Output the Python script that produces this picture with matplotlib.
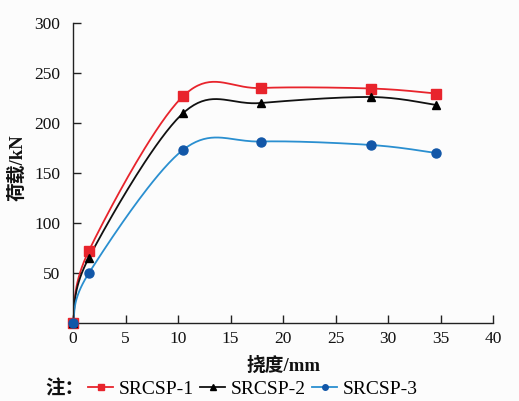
import numpy as np
import matplotlib
matplotlib.use("Agg")
import matplotlib.pyplot as plt
from matplotlib.lines import Line2D

plt.rcParams['font.family'] = ['Liberation Serif', 'Noto Sans CJK SC']

series_names = ["SRCSP-1", "SRCSP-2", "SRCSP-3"]
deflection = [0, 1.5, 10.5, 17.9, 28.4, 34.6]
load_1 = [0, 72, 227, 235, 234.5, 229.5]
load_2 = [0, 65, 210, 220, 226, 218]
load_3 = [0, 49.7, 173.3, 181.5, 178, 170]
x_ticks = [0, 5, 10, 15, 20, 25, 30, 35, 40]
y_ticks = [50, 100, 150, 200, 250, 300]

line_colors = ["#E8242C", "#111111", "#2A8FD0"]
marker_colors = ["#E8242C", "#000000", "#1257A8"]
markers = ["s", "^", "o"]


def excel_smooth(x, y, n=40):
    p = np.column_stack([x, y]).astype(float)
    ext = np.vstack([p[0], p, p[-1]])
    out = []
    t = np.linspace(0, 1, n)[:, None]
    for i in range(len(p) - 1):
        p0 = ext[i + 1]
        p3 = ext[i + 2]
        c1 = p0 + (ext[i + 2] - ext[i]) / 6.0
        c2 = p3 - (ext[i + 3] - ext[i + 1]) / 6.0
        seg = ((1 - t) ** 3) * p0 + 3 * ((1 - t) ** 2) * t * c1 + 3 * (1 - t) * t ** 2 * c2 + t ** 3 * p3
        out.append(seg if i == 0 else seg[1:])
    s = np.vstack(out)
    return np.maximum(s[:, 0], min(x)), s[:, 1]


fig = plt.figure(figsize=(5.19, 4.01), dpi=100, facecolor="#FCFCFC")
ax = fig.add_axes([73 / 519, 78 / 401, 420 / 519, 300 / 401])
ax.set_facecolor("#FCFCFC")

handles = []
for loads, name, lc, mc, mk in zip([load_1, load_2, load_3], series_names, line_colors, marker_colors, markers):
    sx, sy = excel_smooth(deflection, loads)
    ax.plot(sx, sy, color=lc, lw=1.3, zorder=2, clip_on=False)
    ms = 6.5 if mk != "^" else 6
    ax.plot(deflection, loads, linestyle="none", marker=mk, markersize=ms,
            color=mc, markeredgecolor=mc, zorder=3, clip_on=False)
    handles.append(Line2D([0], [0], color=lc, lw=1.3, marker=mk, markersize=4,
                          markerfacecolor=mc, markeredgecolor=mc, label=name))

ax.set_xlim(0, 40)
ax.set_ylim(0, 300)
ax.set_xticks(x_ticks)
ax.set_yticks(y_ticks)
ax.set_xticklabels([str(v) for v in x_ticks])
ax.set_yticklabels([str(v) for v in y_ticks])
for s in ["top", "right"]:
    ax.spines[s].set_visible(False)
for s in ["left", "bottom"]:
    ax.spines[s].set_color("#222222")
    ax.spines[s].set_linewidth(1.0)
ax.tick_params(direction="in", length=6, width=1.0, colors="#222222", labelsize=12.5, labelcolor="#111111")
ax.tick_params(axis="x", pad=6)
ax.tick_params(axis="y", pad=9)

ax.set_xlabel("挠度/mm", fontsize=13.5, fontweight="bold", labelpad=7, color="#111111")
ax.set_ylabel("荷载/kN", fontsize=13.5, fontweight="bold", color="#111111")
ax.yaxis.set_label_coords(-0.112, 0.517)

fig.text(45 / 519, 1 - 389 / 401, "注：", fontsize=14, va="center", ha="left",
         color="#111111", fontweight="bold")
fig.legend(handles=handles, loc="center left", bbox_to_anchor=(88 / 519, 1 - 389 / 401),
           ncol=3, frameon=False, fontsize=14, handlelength=1.3, handletextpad=0.3,
           columnspacing=0.3, borderpad=0, borderaxespad=0)

fig.savefig("out.png", dpi=100, facecolor=fig.get_facecolor())
